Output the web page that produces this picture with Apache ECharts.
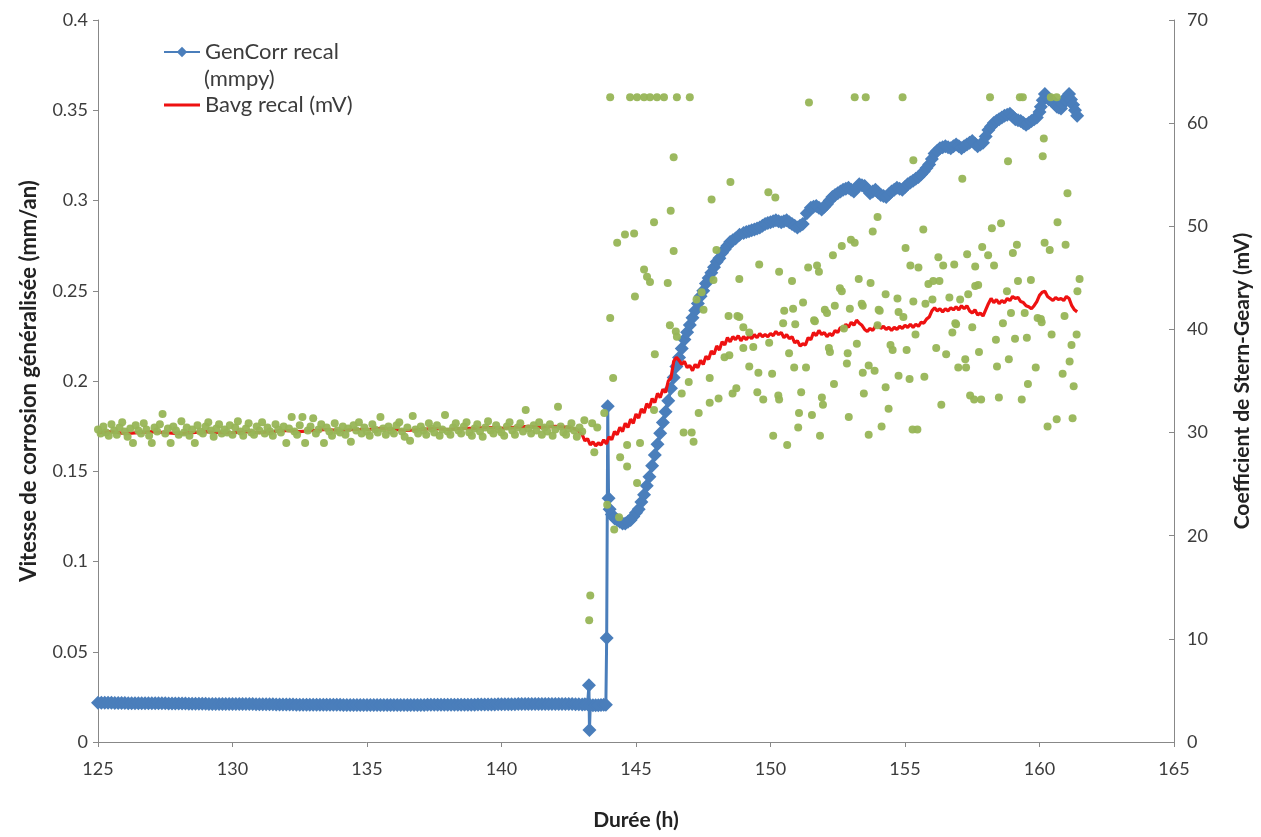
<!DOCTYPE html>
<html><head><meta charset="utf-8">
<script src="https://cdn.jsdelivr.net/npm/echarts@6/dist/echarts.min.js"></script>
<style>html,body{margin:0;padding:0;background:#fff}#c{width:1261px;height:837px}</style>
</head><body><div id="c"></div>
<script>
// ---------- DATA ----------
const xTicks = [125, 130, 135, 140, 145, 150, 155, 160, 165];
const leftTicks = [0, 0.05, 0.1, 0.15, 0.2, 0.25, 0.3, 0.35, 0.4];
const rightTicks = [0, 10, 20, 30, 40, 50, 60, 70];

const seriesNames = ['GenCorr recal (mmpy)', 'Bavg recal (mV)', 'Stern-Geary'];

// GenCorr recal (mm/an), [time h, value]
const genCorr = [
[125,0.0218],[125.125,0.0218],[125.25,0.0217],[125.375,0.0217],[125.5,0.0217],[125.625,0.0216],[125.75,0.0216],[125.875,0.0216],
[126,0.0216],[126.125,0.0215],[126.25,0.0215],[126.375,0.0215],[126.5,0.0215],[126.625,0.0215],[126.75,0.0215],[126.875,0.0214],
[127,0.0214],[127.125,0.0214],[127.25,0.0214],[127.375,0.0214],[127.5,0.0214],[127.625,0.0213],[127.75,0.0213],[127.875,0.0213],
[128,0.0213],[128.125,0.0213],[128.25,0.0213],[128.375,0.0212],[128.5,0.0212],[128.625,0.0212],[128.75,0.0212],[128.875,0.0212],
[129,0.0212],[129.125,0.0211],[129.25,0.0211],[129.375,0.0211],[129.5,0.0211],[129.625,0.0211],[129.75,0.0211],[129.875,0.021],
[130,0.021],[130.125,0.021],[130.25,0.021],[130.375,0.021],[130.5,0.021],[130.625,0.021],[130.75,0.021],[130.875,0.0209],
[131,0.0209],[131.125,0.0209],[131.25,0.0209],[131.375,0.0209],[131.5,0.0209],[131.625,0.0208],[131.75,0.0208],[131.875,0.0208],
[132,0.0208],[132.125,0.0208],[132.25,0.0208],[132.375,0.0207],[132.5,0.0207],[132.625,0.0207],[132.75,0.0207],[132.875,0.0207],
[133,0.0207],[133.125,0.0206],[133.25,0.0206],[133.375,0.0206],[133.5,0.0206],[133.625,0.0206],[133.75,0.0206],[133.875,0.0206],
[134,0.0206],[134.125,0.0205],[134.25,0.0205],[134.375,0.0205],[134.5,0.0205],[134.625,0.0205],[134.75,0.0205],[134.875,0.0205],
[135,0.0205],[135.125,0.0205],[135.25,0.0205],[135.375,0.0205],[135.5,0.0205],[135.625,0.0205],[135.75,0.0205],[135.875,0.0205],
[136,0.0205],[136.125,0.0205],[136.25,0.0205],[136.375,0.0205],[136.5,0.0205],[136.625,0.0205],[136.75,0.0205],[136.875,0.0205],
[137,0.0205],[137.125,0.0205],[137.25,0.0206],[137.375,0.0206],[137.5,0.0206],[137.625,0.0206],[137.75,0.0206],[137.875,0.0206],
[138,0.0206],[138.125,0.0207],[138.25,0.0207],[138.375,0.0207],[138.5,0.0207],[138.625,0.0207],[138.75,0.0207],[138.875,0.0207],
[139,0.0207],[139.125,0.0208],[139.25,0.0208],[139.375,0.0208],[139.5,0.0208],[139.625,0.0208],[139.75,0.0208],[139.875,0.0209],
[140,0.0209],[140.125,0.0209],[140.25,0.0209],[140.375,0.0209],[140.5,0.0209],[140.625,0.021],[140.75,0.021],[140.875,0.021],
[141,0.021],[141.125,0.021],[141.25,0.021],[141.375,0.021],[141.5,0.021],[141.625,0.021],[141.75,0.021],[141.875,0.021],
[142,0.021],[142.125,0.021],[142.25,0.021],[142.375,0.021],[142.5,0.021],[142.625,0.021],[142.75,0.0209],[142.875,0.0209],
[143,0.0208],[143.1,0.0209],[143.2,0.0209],[143.25,0.0315],[143.27,0.0066],[143.3,0.0204],[143.4,0.0203],[143.5,0.0203],
[143.6,0.0204],[143.7,0.0205],[143.8,0.0206],[143.88,0.0207],
[143.91,0.0576],[143.95,0.186],[143.98,0.135],[144.02,0.129],[144.1,0.126],[144.2,0.124],[144.3,0.123],[144.4,0.122],
[144.5,0.121],[144.6,0.121],[144.7,0.122],[144.8,0.123],[144.9,0.125],[145.0,0.127],[145.1,0.129],[145.2,0.133],
[145.3,0.137],[145.4,0.142],[145.5,0.147],[145.6,0.153],[145.7,0.159],[145.8,0.165],[145.9,0.171],[146.0,0.177],
[146.1,0.183],[146.2,0.189],[146.3,0.196],[146.4,0.202],[146.5,0.208],[146.6,0.213],[146.7,0.218],[146.8,0.223],
[146.9,0.227],[147.0,0.231],[147.1,0.235],[147.2,0.239],[147.3,0.243],[147.4,0.247],[147.5,0.25],[147.6,0.254],
[147.7,0.257],[147.8,0.26],[147.9,0.263],[148.0,0.266],[148.1,0.268],[148.2,0.271],[148.3,0.273],[148.4,0.275],
[148.5,0.277],[148.6,0.278],[148.7,0.279],[148.85,0.281],[149.0,0.282],[149.1,0.2825],[149.2,0.283],[149.3,0.2835],[149.4,0.284],
[149.5,0.2845],[149.6,0.285],[149.7,0.286],[149.8,0.287],[149.9,0.2875],[150.0,0.288],[150.1,0.2885],[150.2,0.289],[150.3,0.2885],
[150.4,0.288],[150.5,0.2885],[150.6,0.289],[150.7,0.288],[150.8,0.287],[150.9,0.286],[151.0,0.285],[151.1,0.286],[151.2,0.287],
[151.35,0.293],[151.5,0.296],[151.6,0.2965],[151.7,0.297],[151.8,0.296],[151.9,0.295],[152.0,0.2965],[152.1,0.298],[152.2,0.300],
[152.3,0.302],[152.4,0.303],[152.5,0.304],[152.6,0.305],[152.7,0.306],[152.8,0.3065],[152.9,0.307],[153.0,0.306],[153.1,0.305],
[153.2,0.307],[153.3,0.309],[153.4,0.3085],[153.5,0.308],[153.6,0.306],[153.7,0.304],[153.8,0.305],[153.9,0.306],[154.0,0.3045],
[154.1,0.303],[154.2,0.3025],[154.3,0.302],[154.4,0.3035],[154.5,0.305],[154.6,0.306],[154.7,0.307],[154.8,0.3065],[154.9,0.306],
[155.0,0.3075],[155.1,0.309],[155.2,0.310],[155.3,0.311],[155.4,0.312],[155.5,0.313],[155.6,0.3145],[155.7,0.316],[155.8,0.318],
[155.9,0.320],[156.0,0.323],[156.1,0.326],[156.2,0.3275],[156.3,0.329],[156.4,0.3295],[156.5,0.330],[156.6,0.3295],[156.7,0.329],
[156.8,0.330],[156.9,0.331],[157.0,0.330],[157.1,0.329],[157.2,0.330],[157.3,0.331],[157.4,0.332],[157.5,0.333],[157.6,0.3315],
[157.7,0.330],[157.8,0.331],[157.9,0.332],[158.0,0.3355],[158.1,0.339],[158.2,0.341],[158.3,0.343],[158.4,0.344],[158.5,0.345],
[158.6,0.346],[158.7,0.347],[158.8,0.3475],[158.9,0.348],[159.0,0.3465],[159.1,0.345],[159.2,0.3445],[159.3,0.344],[159.4,0.343],
[159.5,0.342],[159.6,0.343],[159.7,0.344],[159.8,0.345],[159.9,0.346],[160.0,0.349],[160.05,0.352],[160.12,0.3555],[160.2,0.359],
[160.27,0.3575],[160.35,0.356],[160.42,0.3555],[160.5,0.355],[160.57,0.3535],[160.65,0.352],[160.72,0.3515],[160.8,0.351],
[160.87,0.3535],[160.95,0.356],[161.02,0.3575],[161.1,0.359],[161.17,0.356],[161.25,0.353],[161.32,0.350],[161.4,0.347]
];

// Bavg recal (mV), [time h, value]
const bavg = [
[125,30.0],[125.5,30.1],[126,29.9],[126.5,30.0],[127,30.1],[127.5,30.0],[128,29.9],[128.5,30.0],[129,30.1],[129.5,30.0],
[130,30.0],[130.5,30.1],[131,30.0],[131.5,30.1],[132,30.2],[132.5,30.1],[133,30.2],[133.5,30.3],[134,30.2],[134.5,30.3],
[135,30.3],[135.5,30.4],[136,30.3],[136.5,30.2],[137,30.3],[137.5,30.4],[138,30.3],[138.5,30.4],[139,30.4],[139.5,30.5],
[140,30.4],[140.5,30.5],[141,30.6],[141.5,30.5],[142,30.6],[142.5,30.5],[142.8,30.3],
[143.0,29.8],[143.1,29.2],[143.2,29.4],[143.3,28.8],[143.4,29.1],[143.5,28.7],[143.6,29.0],[143.7,28.8],[143.8,29.3],[143.9,28.9],
[144.0,29.6],[144.1,29.3],[144.2,30.1],[144.3,29.8],[144.4,30.5],[144.5,30.1],[144.6,30.9],[144.7,30.5],[144.8,31.3],[144.9,30.9],
[145.0,31.8],[145.1,31.4],[145.2,32.3],[145.3,31.9],[145.4,32.8],[145.5,32.4],[145.6,33.3],[145.7,32.9],[145.8,33.8],[145.9,33.4],
[146.0,34.2],[146.1,33.9],[146.2,35.0],[146.3,35.3],[146.4,36.9],[146.5,37.3],[146.6,37.0],[146.7,36.6],[146.8,36.9],[146.9,36.3],
[147.0,36.5],[147.1,36.0],[147.2,36.6],[147.3,36.3],[147.4,37.0],[147.5,36.6],[147.6,37.4],[147.7,37.1],[147.8,37.9],[147.9,37.6],
[148.0,38.4],[148.1,38.0],[148.2,38.8],[148.3,38.5],[148.4,39.2],[148.5,38.8],[148.6,39.3],[148.7,39.0],[148.8,39.4],[148.9,38.9],
[149.0,39.3],[149.1,39.0],[149.2,39.4],[149.3,39.1],[149.4,39.5],[149.5,39.2],[149.6,39.6],[149.7,39.3],[149.8,39.5],[149.9,39.3],
[150.0,39.6],[150.1,39.4],[150.2,39.8],[150.3,39.5],[150.4,39.7],[150.5,39.2],[150.6,39.5],[150.7,39.1],[150.8,39.3],[150.9,38.7],
[151.0,38.9],[151.1,38.4],[151.2,38.6],[151.3,38.5],[151.4,39.2],[151.5,39.0],[151.6,39.7],[151.7,39.4],[151.8,39.9],[151.9,39.5],
[152.0,39.7],[152.1,39.3],[152.2,39.6],[152.3,39.4],[152.4,39.9],[152.5,39.7],[152.6,40.2],[152.7,40.0],[152.8,40.5],[152.9,40.2],
[153.0,40.7],[153.1,40.4],[153.2,40.9],[153.3,40.6],[153.4,40.4],[153.5,40.0],[153.6,39.8],[153.7,40.1],[153.8,39.9],[153.9,40.3],
[154.0,40.5],[154.1,40.1],[154.2,40.3],[154.3,40.0],[154.4,40.2],[154.5,39.9],[154.6,40.2],[154.7,40.0],[154.8,40.3],[154.9,40.1],
[155.0,40.4],[155.1,40.2],[155.2,40.5],[155.3,40.2],[155.4,40.5],[155.5,40.3],[155.6,40.7],[155.7,40.6],[155.8,41.0],[155.9,41.2],
[156.0,41.8],[156.1,42.1],[156.2,41.8],[156.3,42.0],[156.4,41.7],[156.5,42.0],[156.6,41.8],[156.7,42.1],[156.8,41.9],[156.9,42.2],
[157.0,41.9],[157.1,42.3],[157.2,42.0],[157.3,42.3],[157.4,41.8],[157.5,41.6],[157.6,41.9],[157.7,41.4],[157.8,41.6],[157.9,41.3],
[158.0,41.9],[158.1,42.5],[158.2,43.0],[158.3,42.6],[158.4,42.9],[158.5,42.5],[158.6,42.8],[158.7,42.6],[158.8,43.0],[158.9,42.8],
[159.0,43.2],[159.1,43.0],[159.2,43.1],[159.3,42.7],[159.4,42.6],[159.5,42.3],[159.6,42.2],[159.7,42.0],[159.8,42.3],[159.9,42.7],
[160.0,43.3],[160.1,43.6],[160.2,43.7],[160.3,43.2],[160.4,43.0],[160.5,42.8],[160.6,43.1],[160.7,42.9],[160.8,43.0],[160.9,42.8],
[161.0,43.2],[161.1,43.0],[161.2,42.3],[161.3,41.9],[161.4,41.7]
];

// Stern-Geary coefficient (mV), dense logging before 143 h: times and values
const sgDenseTimes = [
125,125.1,125.2,125.3,125.4,125.5,125.6,125.7,125.8,125.9,
126,126.1,126.2,126.3,126.4,126.5,126.6,126.7,126.8,126.9,
127,127.1,127.2,127.3,127.4,127.5,127.6,127.7,127.8,127.9,
128,128.1,128.2,128.3,128.4,128.5,128.6,128.7,128.8,128.9,
129,129.1,129.2,129.3,129.4,129.5,129.6,129.7,129.8,129.9,
130,130.1,130.2,130.3,130.4,130.5,130.6,130.7,130.8,130.9,
131,131.1,131.2,131.3,131.4,131.5,131.6,131.7,131.8,131.9,
132,132.1,132.2,132.3,132.4,132.5,132.6,132.7,132.8,132.9,
133,133.1,133.2,133.3,133.4,133.5,133.6,133.7,133.8,133.9,
134,134.1,134.2,134.3,134.4,134.5,134.6,134.7,134.8,134.9,
135,135.1,135.2,135.3,135.4,135.5,135.6,135.7,135.8,135.9,
136,136.1,136.2,136.3,136.4,136.5,136.6,136.7,136.8,136.9,
137,137.1,137.2,137.3,137.4,137.5,137.6,137.7,137.8,137.9,
138,138.1,138.2,138.3,138.4,138.5,138.6,138.7,138.8,138.9,
139,139.1,139.2,139.3,139.4,139.5,139.6,139.7,139.8,139.9,
140,140.1,140.2,140.3,140.4,140.5,140.6,140.7,140.8,140.9,
141,141.1,141.2,141.3,141.4,141.5,141.6,141.7,141.8,141.9,
142,142.1,142.2,142.3,142.4,142.5,142.6,142.7,142.8,142.9,
143
];
const sgDenseValues = [
30.3,29.9,30.6,30.0,29.7,30.8,30.2,29.8,30.5,31.0,
30.1,29.6,30.4,29.0,30.7,30.2,29.9,30.9,30.3,29.7,
29.0,30.5,30.1,30.8,31.8,29.9,30.4,29.0,30.6,30.2,
29.8,31.1,30.0,30.5,29.7,30.3,29.0,30.7,30.1,29.9,
30.6,31.0,30.2,29.6,30.4,30.8,29.9,30.3,30.0,30.7,
29.8,30.5,31.1,30.1,29.7,30.4,30.9,30.0,29.8,30.6,
30.2,31.0,29.9,30.5,30.1,29.7,30.8,30.3,30.0,30.6,
29.0,30.4,31.5,30.1,29.8,30.7,31.5,29.0,30.2,30.6,
31.4,29.9,30.3,30.8,29.0,30.5,30.1,29.7,30.9,30.2,
30.0,30.6,29.8,30.4,29.1,30.7,30.2,31.0,29.9,30.5,
30.1,29.7,30.8,30.3,30.0,31.5,30.4,29.8,30.6,30.2,
29.9,30.7,31.0,30.1,29.6,30.5,29.2,31.6,30.3,29.9,
30.6,30.2,29.8,30.9,30.4,30.0,30.7,29.7,30.3,31.7,
30.1,29.8,30.5,30.9,30.2,29.9,30.6,31.0,30.0,29.7,
30.4,30.8,30.1,29.6,30.5,31.1,30.2,29.9,30.7,30.3,
30.0,29.7,30.6,31.0,30.2,29.8,30.5,30.9,30.1,32.2,
30.4,29.9,30.7,30.2,31.0,29.8,30.5,30.1,30.8,29.7,
30.3,32.5,30.6,30.0,29.8,30.4,30.9,30.2,29.6,30.5,
30.1
];
// Stern-Geary coefficient (mV) after 143 h, [time h, value]
const sgSparse = [
[144.04,62.5],[144.78,62.5],[145.04,62.5],[145.3,62.5],[145.52,62.5],[145.78,62.5],[146.04,62.5],[146.52,62.5],[147.0,62.5],
[151.43,62.0],[153.13,62.5],[153.54,62.5],[154.91,62.5],[158.16,62.5],[159.27,62.5],[159.38,62.5],[160.42,62.5],[160.64,62.5],
[146.4,56.7],[148.51,54.3],[147.81,52.6],[146.29,51.5],[145.67,50.4],[144.3,48.4],[144.59,49.2],[144.93,49.3],[146.4,47.6],
[147.99,47.7],[145.3,45.8],[145.41,45.1],[145.52,44.6],[146.18,44.5],[148.84,44.9],[144.96,43.2],[144.04,41.1],[147.25,42.9],
[147.44,43.6],[148.44,41.3],[148.77,41.3],[146.26,40.4],[146.48,39.8],[145.7,37.6],[144.15,35.3],[146.7,33.8],[146.96,34.9],
[147.33,31.9],[147.74,32.9],[148.07,33.3],[148.59,33.8],[148.73,34.3],[147.74,35.3],[148.29,37.3],[148.47,37.5],[148.99,38.2],
[149.21,36.4],[143.82,31.9],[143.08,31.2],[143.37,30.9],[143.56,30.5],[144.67,28.8],[145.15,29.0],[143.45,28.1],[144.41,27.6],
[144.67,26.7],[146.77,30.0],[147.07,30.0],[147.14,29.1],[145.67,32.2],[146.52,39.3],[147.51,41.9],[147.88,44.8],[143.3,14.2],
[143.26,11.8],[143.93,23.0],[144.37,21.8],[144.19,20.6],[145.04,25.1],
[149.92,53.3],[150.18,52.8],[157.13,54.6],[155.31,56.4],[158.23,49.8],[153.98,50.9],[155.68,49.7],[153.8,49.5],[152.65,48.1],
[152.99,48.7],[153.13,48.4],[155.02,47.9],[152.32,47.2],[157.87,48.0],[158.09,47.2],[157.31,47.3],[149.58,46.3],[151.4,46.0],
[151.73,46.2],[151.8,45.6],[155.2,46.2],[155.5,46.0],[156.24,47.0],[156.42,46.2],[156.83,46.3],[157.61,46.1],[150.32,45.6],
[150.8,44.7],[153.28,44.9],[153.72,44.5],[155.87,44.4],[156.05,44.7],[156.28,44.7],[152.58,44.0],[152.65,43.7],[157.72,44.3],
[154.28,43.4],[154.72,43.0],[155.31,42.7],[156.02,42.9],[156.65,43.1],[157.05,42.9],[151.21,42.6],[150.51,41.8],[150.84,42.0],
[152.02,41.9],[152.1,41.6],[152.95,42.0],[153.43,42.3],[154.02,41.9],[154.76,41.7],[155.76,42.5],[148.84,41.2],[148.99,40.2],
[151.62,40.9],[150.47,40.6],[152.73,40.1],[152.39,42.3],[153.39,42.5],[154.06,41.8],[154.94,41.2],[149.21,39.7],[149.36,38.3],
[149.95,38.7],[150.92,40.5],[150.69,37.7],[151.65,40.8],[152.84,36.7],[152.87,37.7],[153.21,38.6],[152.17,38.2],[152.21,37.8],
[153.98,40.4],[154.46,38.5],[154.54,38.0],[155.06,38.0],[155.39,39.5],[156.16,38.2],[156.53,37.6],[156.76,39.7],[156.9,40.5],
[157.24,37.1],[157.5,40.2],[157.75,37.8],[158.38,39.0],[158.64,40.6],[158.94,41.6],[159.09,39.1],[159.53,39.2],[158.86,37.1],
[159.45,41.6],[159.93,41.1],[160.08,40.7],[160.45,39.5],[160.93,41.3],[161.38,39.5],[161.19,38.5],[161.12,36.9],[161.27,34.5],
[160.86,35.7],[159.86,36.3],[159.57,34.7],[159.34,33.2],[158.49,33.4],[158.42,36.4],[157.42,33.6],[157.57,33.2],[157.83,33.2],
[157.27,36.3],[156.98,36.3],[156.35,32.7],[155.72,35.4],[155.17,35.2],[154.76,35.5],[154.28,34.4],[154.39,32.3],[154.13,30.6],
[153.65,29.8],[155.28,30.3],[155.46,30.3],[153.47,33.8],[153.65,36.5],[153.87,36.0],[153.43,35.8],[152.91,31.5],[152.36,34.7],
[151.91,33.4],[151.95,32.7],[151.84,29.7],[151.54,31.7],[151.06,31.9],[151.14,33.9],[151.03,30.5],[151.32,36.3],[150.88,36.3],
[150.62,28.8],[150.1,29.7],[150.29,33.6],[150.32,33.2],[149.73,33.2],[149.51,33.9],[149.55,35.8],[150.06,35.7],[160.3,30.6],
[160.64,31.3],[161.23,31.4],
[160.16,58.5],[160.12,56.8],[158.83,56.3],[161.04,53.2],[160.67,50.4],[158.57,50.3],[160.19,48.4],[160.38,47.7],[160.97,48.2],
[159.16,48.2],[159.01,47.4],[158.31,46.2],[161.49,44.9],[161.41,43.7],[159.2,44.7],[159.68,44.8],[158.79,43.7],[157.35,43.4],
[157.61,44.2],[156.87,40.6],[160.05,41.0]
];

// ---------- CHART ----------
const FONT = 'Lato, "Open Sans", sans-serif';
const TXT = '#3c3c3c';
const AXC = '#888888';
const BLUE = '#4A7EBB', RED = '#EE1111', GREEN = '#97B556';

const sgData = sgDenseTimes.map((t, i) => [t, sgDenseValues[i]]).concat(sgSparse);

const chart = echarts.init(document.getElementById('c'), null, {renderer: 'canvas'});
chart.setOption({
  animation: false,
  backgroundColor: '#ffffff',
  textStyle: {fontFamily: FONT},
  grid: {left: 98, right: 80, top: 20, bottom: 95, containLabel: false},
  legend: {
    data: [
      {name: seriesNames[0]},
      {name: seriesNames[1], icon: 'path://M0,0 L36,0 L36,3.2 L0,3.2 Z'}
    ],
    orient: 'vertical', left: 163, top: 41, padding: 0,
    itemWidth: 36, itemHeight: 13, itemGap: 31,
    formatter: n => n === seriesNames[0] ? 'GenCorr recal' : n,
    textStyle: {fontFamily: FONT, fontSize: 22, color: TXT}
  },
  graphic: [{
    type: 'text', left: 204, top: 68,
    style: {text: '(mmpy)', font: '22px ' + FONT, fill: TXT}
  }],
  xAxis: {
    type: 'value', min: xTicks[0], max: xTicks[xTicks.length - 1], interval: 5,
    name: 'Durée (h)', nameLocation: 'middle', nameGap: 68,
    nameTextStyle: {fontFamily: FONT, fontWeight: 'bold', fontSize: 21, color: '#222'},
    axisLine: {show: true, onZero: false, lineStyle: {color: AXC, width: 1}},
    axisTick: {show: true, length: 5, lineStyle: {color: AXC}},
    axisLabel: {fontFamily: FONT, fontSize: 18, color: TXT, margin: 18},
    splitLine: {show: false}
  },
  yAxis: [{
    type: 'value', min: leftTicks[0], max: leftTicks[leftTicks.length - 1], interval: 0.05,
    name: 'Vitesse de corrosion généralisée (mm/an)', nameLocation: 'middle', nameRotate: 90, nameGap: 58,
    nameTextStyle: {fontFamily: FONT, fontWeight: 'bold', fontSize: 22, color: '#222'},
    axisLine: {show: true, lineStyle: {color: AXC, width: 1}},
    axisTick: {show: true, length: 5, lineStyle: {color: AXC}},
    axisLabel: {fontFamily: FONT, fontSize: 18, color: TXT, margin: 10,
      formatter: v => String(+v.toFixed(2))},
    splitLine: {show: false}
  }, {
    type: 'value', position: 'right', min: rightTicks[0], max: rightTicks[rightTicks.length - 1], interval: 10,
    name: 'Coefficient de Stern-Geary (mV)', nameLocation: 'middle', nameRotate: 90, nameGap: 58,
    nameTextStyle: {fontFamily: FONT, fontWeight: 'bold', fontSize: 21, color: '#222'},
    axisLine: {show: true, lineStyle: {color: AXC, width: 1}},
    axisTick: {show: true, length: 5, inside: true, lineStyle: {color: AXC}},
    axisLabel: {fontFamily: FONT, fontSize: 18, color: TXT, margin: 13},
    splitLine: {show: false}
  }],
  series: [{
    name: seriesNames[0], type: 'line', yAxisIndex: 0, data: genCorr,
    symbol: 'diamond', symbolSize: 14, showSymbol: true,
    itemStyle: {color: BLUE}, lineStyle: {color: BLUE, width: 3},
    z: 2
  }, {
    name: seriesNames[1], type: 'line', yAxisIndex: 1, data: bavg,
    symbol: 'none', showSymbol: false,
    itemStyle: {color: RED}, lineStyle: {color: RED, width: 3.2},
    z: 3
  }, {
    name: seriesNames[2], type: 'scatter', yAxisIndex: 1, data: sgData,
    symbol: 'circle', symbolSize: 8,
    itemStyle: {color: GREEN, opacity: 0.95},
    z: 4
  }]
});
</script>
</body></html>
